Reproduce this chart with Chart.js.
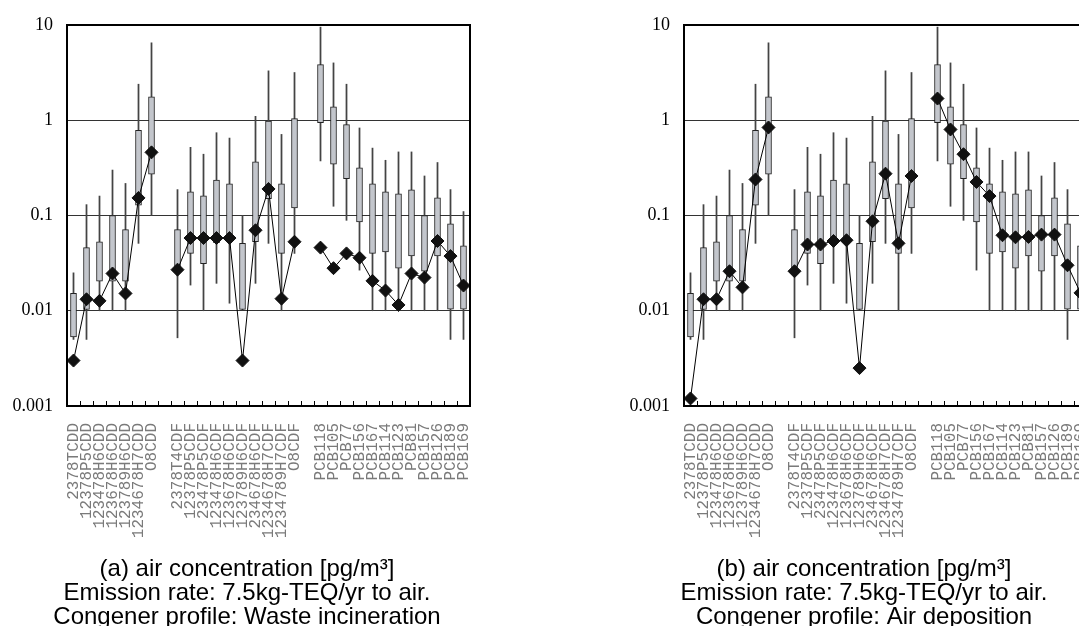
<!DOCTYPE html>
<html>
<head>
<meta charset="utf-8">
<script src="https://cdn.jsdelivr.net/npm/chart.js@4.4.0/dist/chart.umd.min.js"></script>
<style>
  html, body { margin: 0; padding: 0; background: #fff; overflow: hidden; }
  body { width: 1079px; height: 626px; position: relative; }
  canvas { position: absolute; top: 0; }
  #chartA { left: 0; }
  #chartB { left: 617px; }
</style>
</head>
<body>
<canvas id="chartA" width="494" height="640"></canvas>
<canvas id="chartB" width="494" height="640"></canvas>
<script>
// congeners, '' = gap between groups
const congeners = ['2378TCDD', '12378P5CDD', '123478H6CDD', '123678H6CDD', '123789H6CDD', '1234678H7CDD', 'O8CDD', '',
  '2378T4CDF', '12378P5CDF', '23478P5CDF', '123478H6CDF', '123678H6CDF', '123789H6CDF', '234678H6CDF', '1234678H7CDF', '1234789H7CDF', 'O8CDF', '',
  'PCB118', 'PCB105', 'PCB77', 'PCB156', 'PCB167', 'PCB114', 'PCB123', 'PCB81', 'PCB157', 'PCB126', 'PCB189', 'PCB169'];

// observed range (box = quartiles, whiskers = min/max)
const boxLow = [0.0053, 0.0103, 0.0204, 0.0204, 0.0204, 0.128, 0.271, null,
  0.0278, 0.040, 0.0313, 0.052, 0.055, 0.0103, 0.053, 0.15, 0.040, 0.12, null,
  0.946, 0.345, 0.244, 0.0857, 0.040, 0.0415, 0.028, 0.0377, 0.026, 0.0377, 0.0104, 0.0104];
const boxHigh = [0.0152, 0.046, 0.053, 0.1, 0.071, 0.785, 1.76, null,
  0.071, 0.177, 0.161, 0.235, 0.215, 0.051, 0.365, 0.98, 0.215, 1.04, null,
  3.84, 1.38, 0.90, 0.316, 0.215, 0.177, 0.169, 0.186, 0.1, 0.153, 0.082, 0.048];
const whiskerLow = [0.005, 0.005, 0.01, 0.01, 0.01, 0.051, 0.1, null,
  0.0052, 0.0186, 0.01, 0.0194, 0.012, 0.0102, 0.0194, 0.051, 0.01, 0.04, null,
  0.374, 0.125, 0.089, 0.0267, 0.01, 0.01, 0.01, 0.01, 0.01, 0.01, 0.005, 0.005];
const whiskerHigh = [0.025, 0.13, 0.16, 0.30, 0.217, 2.39, 6.5, null,
  0.187, 0.52, 0.44, 0.74, 0.65, 0.1, 1.1, 3.3, 0.71, 3.17, null,
  9.5, 4.0, 2.39, 0.83, 0.51, 0.38, 0.465, 0.465, 0.26, 0.36, 0.187, 0.11];

// model results
const profileA = [0.003, 0.0132, 0.0127, 0.0246, 0.0152, 0.153, 0.46, null,
  0.027, 0.058, 0.058, 0.058, 0.058, 0.003, 0.07, 0.19, 0.0134, 0.053, null,
  0.046, 0.028, 0.040, 0.036, 0.0206, 0.0163, 0.0115, 0.0246, 0.0223, 0.054, 0.0375, 0.0184];
const profileB = [0.0012, 0.0132, 0.0132, 0.026, 0.0176, 0.239, 0.84, null,
  0.026, 0.0496, 0.0496, 0.054, 0.055, 0.0025, 0.087, 0.275, 0.051, 0.26, null,
  1.69, 0.80, 0.44, 0.225, 0.16, 0.062, 0.059, 0.0596, 0.063, 0.063, 0.030, 0.0154];

const yTicks = [0.001, 0.01, 0.1, 1, 10];
const yTickLabels = ['0.001', '0.01', '0.1', '1', '10'];

const titleA = ['(a) air concentration [pg/m³]', 'Emission rate: 7.5kg-TEQ/yr to air.', 'Congener profile: Waste incineration'];
const titleB = ['(b) air concentration [pg/m³]', 'Emission rate: 7.5kg-TEQ/yr to air.', 'Congener profile: Air deposition'];

const framePlugin = {
  id: 'frame',
  afterDatasetsDraw(chart) {
    const a = chart.chartArea, ctx = chart.ctx;
    ctx.save();
    ctx.strokeStyle = '#000';
    ctx.lineWidth = 2;
    ctx.strokeRect(a.left, a.top, a.right - a.left, a.bottom - a.top);
    ctx.restore();
  }
};

function makeChart(id, profile, title) {
  const ctx = document.getElementById(id).getContext('2d');
  return new Chart(ctx, {
    type: 'bar',
    data: {
      labels: congeners,
      datasets: [{
        type: 'line',
        data: profile,
        borderColor: '#000',
        borderWidth: 1,
        pointStyle: 'rectRot',
        pointRadius: 6.5,
        pointBackgroundColor: '#111',
        pointBorderColor: '#111',
        spanGaps: false,
        order: 0
      }, {
        data: boxLow.map((v, i) => v == null ? null : [v, boxHigh[i]]),
        backgroundColor: '#c3c6cc',
        borderColor: '#222',
        borderWidth: 1,
        borderSkipped: false,
        barThickness: 6,
        grouped: false,
        order: 1
      }, {
        data: whiskerLow.map((v, i) => v == null ? null : [v, whiskerHigh[i]]),
        backgroundColor: '#444',
        borderWidth: 0,
        barThickness: 1.1,
        grouped: false,
        order: 2
      }]
    },
    options: {
      responsive: false,
      animation: false,
      layout: { padding: { top: 25, right: 0, bottom: 11, left: 0 } },
      plugins: {
        legend: { display: false },
        tooltip: { enabled: false },
        title: {
          display: true,
          position: 'bottom',
          text: title,
          color: '#000',
          padding: 0,
          font: { family: 'Liberation Sans, Arial, sans-serif', size: 24, weight: 'normal', lineHeight: 1.0 }
        }
      },
      scales: {
        x: {
          type: 'category',
          offset: true,
          grid: { offset: true, drawOnChartArea: false, drawTicks: true, tickLength: -5, color: '#000', lineWidth: 1 },
          border: { display: true, color: '#000', width: 2 },
          ticks: {
            autoSkip: false, maxRotation: 90, minRotation: 90, padding: 22,
            color: '#7a7a7a',
            font: { family: 'Liberation Mono, Courier New, monospace', size: 16 }
          },
          afterFit: s => { s.height = 151; s.paddingRight = 24; }
        },
        y: {
          type: 'logarithmic',
          min: 0.001,
          max: 10,
          afterBuildTicks: s => { s.ticks = yTicks.map(v => ({ value: v })); },
          grid: { color: '#333', lineWidth: 1, drawTicks: false },
          border: { color: '#000', width: 2 },
          ticks: {
            padding: 14,
            color: '#000',
            font: { family: 'Liberation Serif, Times New Roman, serif', size: 18 },
            callback: (v, i) => yTickLabels[i]
          },
          afterFit: s => { s.width = 67; }
        }
      }
    },
    plugins: [framePlugin]
  });
}

makeChart('chartA', profileA, titleA);
makeChart('chartB', profileB, titleB);
</script>
</body>
</html>
